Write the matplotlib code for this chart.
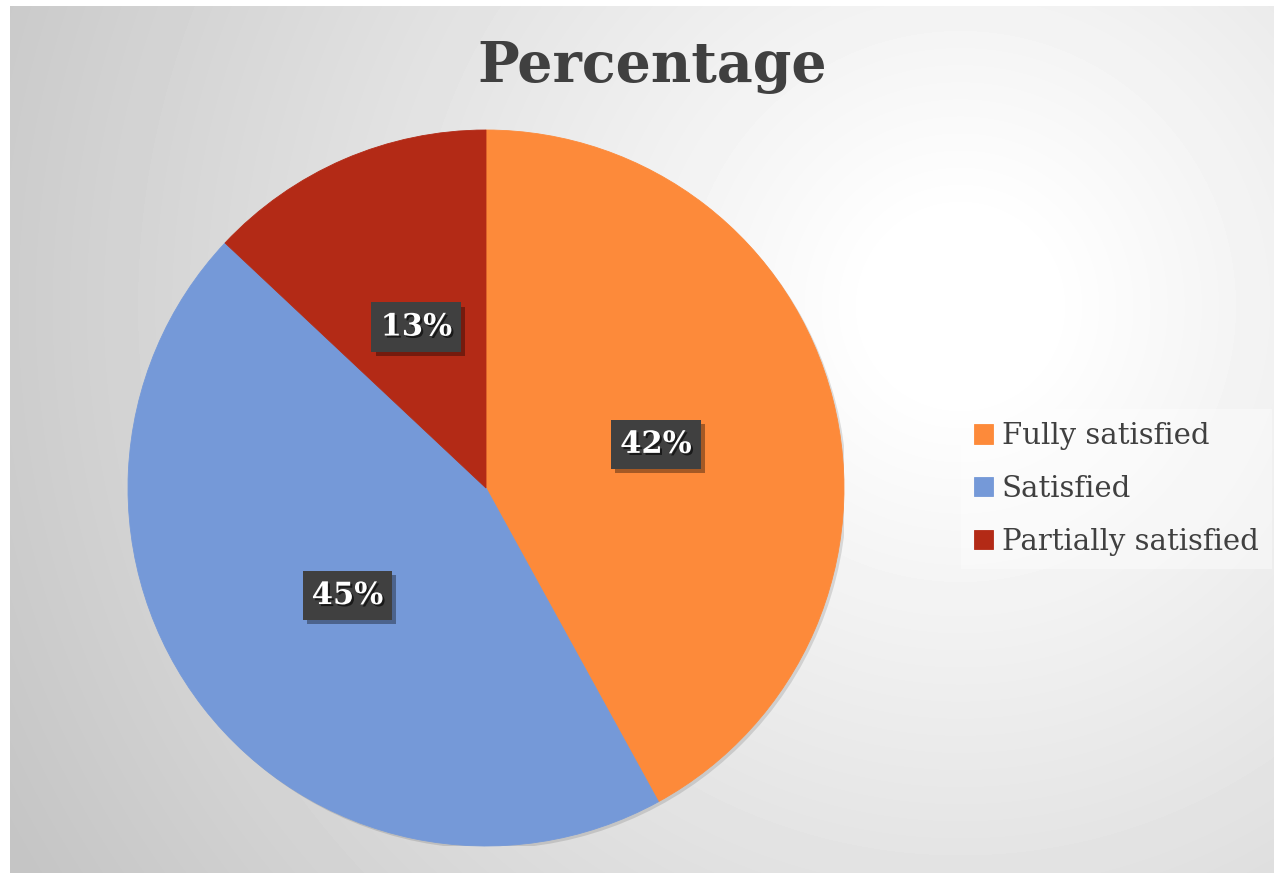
import numpy as np
import matplotlib
matplotlib.use('Agg')
import matplotlib.pyplot as plt
import matplotlib.patheffects as pe
from matplotlib.patches import Circle

# data
labels = ['Fully satisfied', 'Satisfied', 'Partially satisfied']
shares = [42, 45, 13]
colors = ['#FD8A3A', '#7599D8', '#B32A16']

W, H = 1274, 873
fig = plt.figure(figsize=(W / 100, H / 100), dpi=100)
fig.patch.set_facecolor('white')

# radial gradient background
bg = fig.add_axes([10 / W, 0, (W - 10) / W, (H - 6) / H])
yy, xx = np.mgrid[0:H - 6, 0:W - 10]
cx, cy = 950, 300
d = np.sqrt((xx - cx) ** 2 + (yy - cy) ** 2) / 1050.0
val = np.clip(1.02 - 0.24 * d, 0.77, 1.0)
bg.imshow(val, cmap='gray', vmin=0, vmax=1, aspect='auto', interpolation='bilinear')
bg.axis('off')

# pie
pcx, pcy, r = 486, 488, 358
ax = fig.add_axes([(pcx - r) / W, (H - pcy - r) / H, 2 * r / W, 2 * r / H])
ax.set_facecolor('none')
shadow = Circle((0.008, -0.008), 1.0, facecolor='black', alpha=0.12, edgecolor='none')
ax.add_patch(shadow)
wedges, texts, autotexts = ax.pie(shares, colors=colors, startangle=90, counterclock=False,
                                  autopct='%d%%', pctdistance=0.49, radius=1,
                                  wedgeprops=dict(linewidth=0.6, edgecolor='none'),
                                  textprops=dict(color='white', fontsize=22, fontweight='bold',
                                                 family='DejaVu Serif'))
for w in wedges:
    w.set_edgecolor(w.get_facecolor())
for t in autotexts:
    t.set_bbox(dict(boxstyle='square,pad=0.3', facecolor='#404040', edgecolor='none'))
    t.get_bbox_patch().set_path_effects([
        pe.SimplePatchShadow(offset=(3, -3), shadow_rgbFace='black', alpha=0.35), pe.Normal()])
    t.set_path_effects([
        pe.SimplePatchShadow(offset=(1.5, -1.5), shadow_rgbFace='black', alpha=0.6), pe.Normal()])
ax.set_xlim(-1, 1)
ax.set_ylim(-1, 1)

fig.text(652 / W, 1 - 66 / H, 'Percentage', ha='center', va='center', fontsize=40,
         fontweight='bold', family='DejaVu Serif', color='#404040')

leg = fig.legend(wedges, labels, loc='center left', bbox_to_anchor=(961 / W, 1 - 489 / H),
                 frameon=True, fancybox=False, prop=dict(family='DejaVu Serif', size=21),
                 handlelength=0.65, handleheight=0.65, handletextpad=0.3, labelspacing=0.85,
                 borderpad=0.45, borderaxespad=0)
for t in leg.get_texts():
    t.set_color('#404040')
fr = leg.get_frame()
fr.set_facecolor('white')
fr.set_alpha(0.4)
fr.set_edgecolor('none')

fig.savefig('out.png', dpi=100)
